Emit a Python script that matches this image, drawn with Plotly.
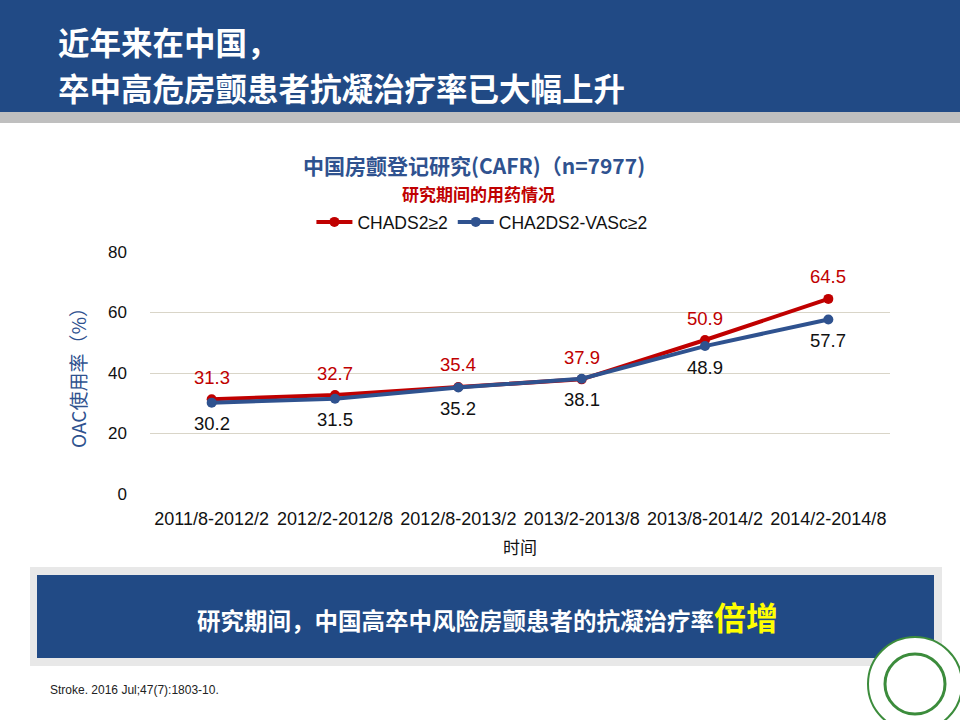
import plotly.graph_objects as go

categories = ["2011/8-2012/2", "2012/2-2012/8", "2012/8-2013/2", "2013/2-2013/8", "2013/8-2014/2", "2014/2-2014/8"]
chads2 = [31.3, 32.7, 35.4, 37.9, 50.9, 64.5]
cha2ds2vasc = [30.2, 31.5, 35.2, 38.1, 48.9, 57.7]
y_ticks = [0, 20, 40, 60, 80]

RED = "#C00000"
BLUE = "#2F528F"
HDR = "#214A85"
CJK = "Noto Sans CJK SC"
LAT = "Liberation Sans"

fig = go.Figure()
fig.add_trace(go.Scatter(
    x=categories, y=chads2, name="CHADS2≥2", mode="lines+markers",
    line=dict(color=RED, width=4), marker=dict(color=RED, size=10),
))
fig.add_trace(go.Scatter(
    x=categories, y=cha2ds2vasc, name="CHA2DS2-VASc≥2", mode="lines+markers",
    line=dict(color=BLUE, width=4), marker=dict(color=BLUE, size=10),
))

W, H = 960, 720
ML, MR, MT, MB = 150, 70, 252, 226
fig.update_layout(
    width=W, height=H,
    margin=dict(l=ML, r=MR, t=MT, b=MB, autoexpand=False),
    paper_bgcolor="white", plot_bgcolor="white",
    showlegend=True,
    legend=dict(orientation="h", x=0.502, xanchor="center", y=1 - 222 / 720, yanchor="middle",
                yref="container", xref="container",
                font=dict(size=17.5, family=LAT, color="#111"),
                bgcolor="rgba(0,0,0,0)", itemwidth=36),
    xaxis=dict(showgrid=False, showline=False, ticks="", range=[-0.5, 5.5],
               tickfont=dict(size=18, family=LAT, color="#111"),
               ticklabelstandoff=12,
               title=dict(text="时间", font=dict(size=17, family=CJK, color="#111"), standoff=14),
               fixedrange=True),
    yaxis=dict(range=[0, 80], tickvals=y_ticks, showgrid=True, gridcolor="#D9D5C8", gridwidth=1,
               zeroline=False, showline=False, ticks="",
               tickfont=dict(size=17, family=LAT, color="#111"),
               ticklabelstandoff=22,
               title=dict(text="OAC使用率（%）", font=dict(size=19, family=CJK, color=BLUE), standoff=16),
               fixedrange=True),
)

pw, ph = W - ML - MR, H - MT - MB
def px_x(x):
    return (x - ML) / pw
def px_y(y):
    return (H - MB - y) / ph

shapes = [
    dict(type="rect", xref="paper", yref="paper", x0=px_x(0), x1=px_x(960), y0=px_y(0), y1=px_y(112),
         fillcolor=HDR, line_width=0, layer="below"),
    dict(type="rect", xref="paper", yref="paper", x0=px_x(0), x1=px_x(960), y0=px_y(112), y1=px_y(123),
         fillcolor="#BFBFBF", line_width=0, layer="below"),
    dict(type="rect", xref="paper", yref="paper", x0=px_x(30), x1=px_x(942), y0=px_y(567), y1=px_y(666),
         fillcolor="#E8E8E8", line_width=0, layer="below"),
    dict(type="rect", xref="paper", yref="paper", x0=px_x(37), x1=px_x(934), y0=px_y(575), y1=px_y(658),
         fillcolor=HDR, line_width=0, layer="below"),
    dict(type="circle", xref="paper", yref="paper", x0=px_x(868), x1=px_x(962), y0=px_y(637), y1=px_y(731),
         fillcolor="white", line=dict(color="#3C8C3C", width=2), layer="below"),
    dict(type="circle", xref="paper", yref="paper", x0=px_x(885), x1=px_x(945), y0=px_y(654), y1=px_y(714),
         fillcolor="rgba(0,0,0,0)", line=dict(color="#3C8C3C", width=3), layer="below"),
]
fig.update_layout(shapes=shapes)

annotations = [
    dict(text="<b>近年来在中国，</b>", x=px_x(56), y=px_y(41),
         xanchor="left", yanchor="middle", font=dict(size=31.5, family=CJK, color="white")),
    dict(text="<b>卒中高危房颤患者抗凝治疗率已大幅上升</b>", x=px_x(56), y=px_y(87),
         xanchor="left", yanchor="middle", font=dict(size=31.5, family=CJK, color="white")),
    dict(text="<b>中国房颤登记研究(CAFR)（n=7977)</b>", x=px_x(474), y=px_y(165), xanchor="center", yanchor="middle",
         font=dict(size=21, family=CJK, color=BLUE)),
    dict(text="<b>研究期间的用药情况</b>", x=px_x(478), y=px_y(194), xanchor="center", yanchor="middle",
         font=dict(size=17, family=CJK, color=RED)),
    dict(text="<b>研究期间，中国高卒中风险房颤患者的抗凝治疗率<span style='color:#FFFF00;font-size:32px'>倍增</span></b>",
         x=px_x(487), y=px_y(616), xanchor="center", yanchor="middle",
         font=dict(size=23.5, family=CJK, color="white")),
    dict(text="Stroke. 2016 Jul;47(7):1803-10.", x=px_x(48), y=px_y(690), xanchor="left", yanchor="middle",
         font=dict(size=12, family=LAT, color="#222")),
]
for a in annotations:
    a.update(xref="paper", yref="paper", showarrow=False)

# data labels, placed through the data axes
for c, v in zip(categories, chads2):
    annotations.append(dict(x=c, y=v, xref="x", yref="y", text=f"{v}", showarrow=False,
                            yshift=22, font=dict(color=RED, size=18.5, family=LAT)))
for c, v in zip(categories, cha2ds2vasc):
    annotations.append(dict(x=c, y=v, xref="x", yref="y", text=f"{v}", showarrow=False,
                            yshift=-21, font=dict(color="#111111", size=18.5, family=LAT)))
fig.update_layout(annotations=annotations)

fig.write_html("out.html", config={"displayModeBar": False},
               post_script="document.body.style.margin='0';document.body.style.overflow='hidden';")
